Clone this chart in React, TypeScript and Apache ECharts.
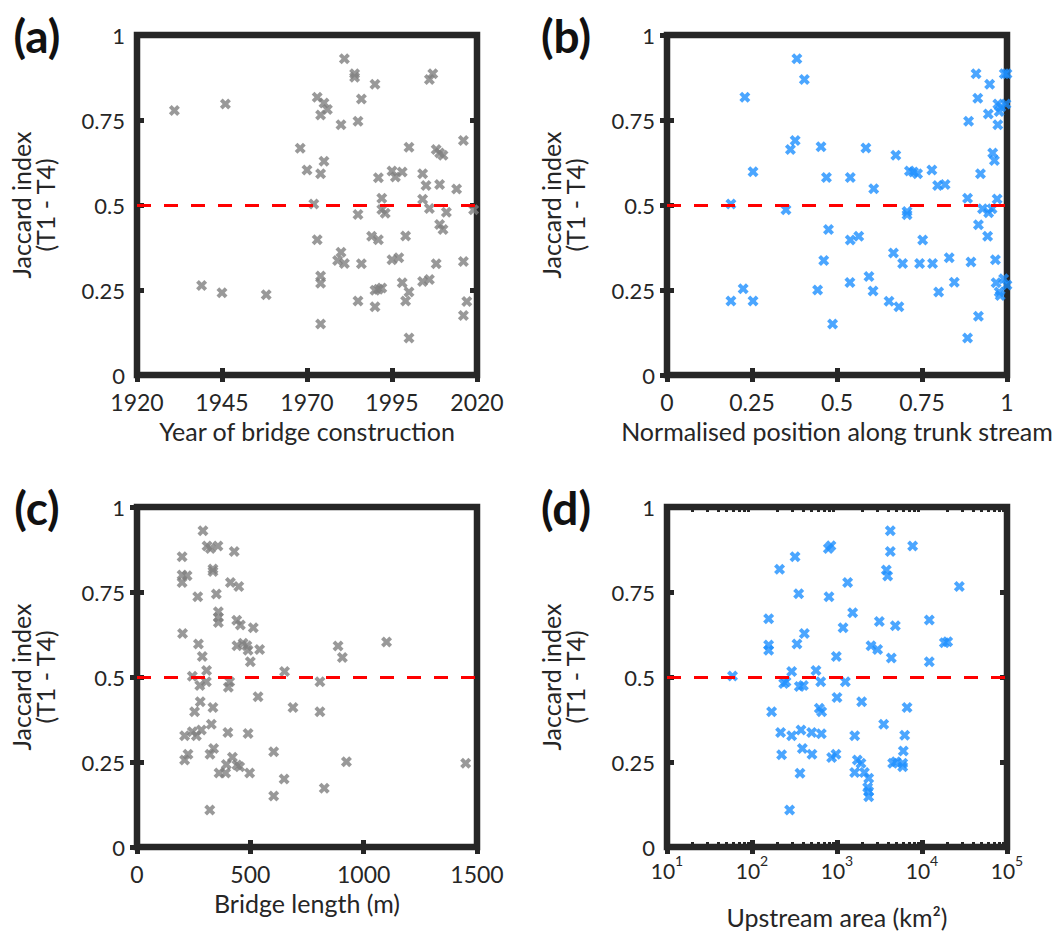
import React, { useEffect, useRef } from 'react';
import * as echarts from 'echarts';

// ---------------- DATA ----------------
// (a) Year of bridge construction vs Jaccard index
const aYear = [
  1931, 1946, 1939, 1945, 1958, 1981, 1984, 1984, 1990, 1986,
  1973, 1975, 1976, 1974, 1980, 1985, 2007, 2006, 2016, 1968,
  2000, 2008, 2009, 2010, 1975, 1970, 1974, 1995, 1996, 1998,
  1991, 2004, 2005, 2009, 2014, 1992, 2004, 1972, 2006, 1992,
  1993, 2011, 2019, 1985, 2009, 2010, 1973, 1989, 1991, 1999,
  1980, 1979, 1981, 1986, 1995, 1997, 2008, 2016, 1974, 1974,
  1998, 2004, 2006, 1990, 1991, 1992, 2000, 1985, 1999, 2017,
  1990, 2016, 1974, 2000,
];
const aJac = [
  0.778, 0.797, 0.263, 0.242, 0.236, 0.930, 0.886, 0.876, 0.855, 0.812,
  0.817, 0.800, 0.781, 0.765, 0.736, 0.746, 0.886, 0.869, 0.690, 0.667,
  0.670, 0.663, 0.653, 0.646, 0.629, 0.603, 0.592, 0.600, 0.582, 0.597,
  0.580, 0.592, 0.557, 0.560, 0.547, 0.520, 0.517, 0.503, 0.490, 0.487,
  0.476, 0.479, 0.486, 0.472, 0.443, 0.428, 0.398, 0.408, 0.398, 0.409,
  0.361, 0.337, 0.328, 0.327, 0.339, 0.345, 0.327, 0.334, 0.291, 0.270,
  0.271, 0.275, 0.281, 0.249, 0.252, 0.256, 0.244, 0.218, 0.218, 0.216,
  0.201, 0.175, 0.150, 0.109,
];

// (b) Normalised position along trunk stream vs Jaccard index
const bPos = [
  0.382, 0.404, 0.229, 0.909, 0.949, 0.914, 0.992, 1.0, 0.973, 0.982,
  0.997, 0.977, 0.945, 0.887, 0.973, 0.377, 0.363, 0.453, 0.585, 0.673,
  0.958, 0.963, 0.253, 0.469, 0.539, 0.713, 0.725, 0.737, 0.779, 0.922,
  0.608, 0.796, 0.818, 0.884, 0.971, 0.188, 0.350, 0.706, 0.706, 0.928,
  0.946, 0.956, 0.475, 0.539, 0.564, 0.752, 0.916, 0.943, 0.666, 0.693,
  0.743, 0.781, 0.830, 0.894, 0.966, 0.461, 0.594, 0.538, 0.845, 0.968,
  0.990, 1.0, 0.224, 0.188, 0.253, 0.443, 0.606, 0.799, 0.653, 0.682,
  0.977, 0.980, 0.487, 0.916, 0.884,
];
const bJac = [
  0.930, 0.869, 0.817, 0.886, 0.855, 0.814, 0.886, 0.886, 0.797, 0.788,
  0.797, 0.775, 0.768, 0.746, 0.736, 0.690, 0.663, 0.671, 0.668, 0.646,
  0.653, 0.631, 0.598, 0.581, 0.581, 0.600, 0.597, 0.592, 0.603, 0.592,
  0.548, 0.557, 0.560, 0.520, 0.518, 0.503, 0.486, 0.481, 0.471, 0.489,
  0.477, 0.489, 0.428, 0.397, 0.408, 0.397, 0.442, 0.408, 0.359, 0.328,
  0.328, 0.328, 0.345, 0.332, 0.339, 0.337, 0.290, 0.272, 0.273, 0.271,
  0.283, 0.265, 0.254, 0.218, 0.218, 0.250, 0.247, 0.244, 0.217, 0.201,
  0.244, 0.234, 0.150, 0.173, 0.109,
];

// (c) Bridge length (m) vs Jaccard index
const cLen = [
  291, 309, 324, 357, 429, 199, 335, 335, 199, 221,
  199, 412, 449, 268, 350, 359, 359, 359, 440, 456,
  513, 201, 271, 441, 468, 485, 490, 541, 500, 887,
  906, 1101, 288, 307, 651, 244, 306, 277, 409, 403,
  807, 534, 279, 335, 254, 688, 807, 328, 210, 244,
  262, 284, 401, 490, 322, 338, 225, 210, 421, 441,
  394, 362, 391, 497, 603, 924, 1450, 649, 603, 826,
  321, 453,
];
const cJac = [
  0.930, 0.885, 0.878, 0.885, 0.869, 0.854, 0.818, 0.810, 0.800, 0.798,
  0.778, 0.778, 0.766, 0.736, 0.744, 0.692, 0.675, 0.660, 0.667, 0.653,
  0.645, 0.628, 0.597, 0.592, 0.599, 0.592, 0.579, 0.581, 0.545, 0.591,
  0.557, 0.603, 0.560, 0.519, 0.516, 0.502, 0.486, 0.475, 0.486, 0.470,
  0.486, 0.442, 0.427, 0.410, 0.398, 0.410, 0.398, 0.361, 0.327, 0.339,
  0.327, 0.344, 0.337, 0.334, 0.273, 0.290, 0.273, 0.256, 0.264, 0.241,
  0.243, 0.218, 0.218, 0.218, 0.280, 0.251, 0.246, 0.200, 0.150, 0.173,
  0.109, 0.236,
];

// (d) Upstream area (km^2) vs Jaccard index
const dArea = [
  4236, 4236, 7762, 791, 849, 321, 211, 3802, 3945, 1334,
  27480, 354, 805, 1528, 157, 3148, 4855, 1178, 12190, 413,
  338, 157, 157, 2512, 3006, 18330, 20050, 982, 4355, 12190,
  59, 293, 566, 236, 251, 360, 402, 643, 1253, 1000,
  1950, 6668, 170, 619, 660, 3540, 217, 293, 377, 503,
  654, 1614, 6256, 223, 391, 508, 865, 973, 6026, 1734,
  1915, 4518, 4943, 5929, 5929, 367, 1614, 2099, 2360, 2296,
  2360, 2360, 277,
];
const dJac = [
  0.930, 0.869, 0.885, 0.878, 0.886, 0.854, 0.817, 0.815, 0.797, 0.778,
  0.766, 0.745, 0.736, 0.689, 0.671, 0.663, 0.651, 0.645, 0.668, 0.628,
  0.597, 0.594, 0.579, 0.592, 0.581, 0.601, 0.604, 0.560, 0.556, 0.545,
  0.503, 0.516, 0.519, 0.481, 0.486, 0.472, 0.475, 0.486, 0.486, 0.440,
  0.427, 0.410, 0.398, 0.408, 0.398, 0.361, 0.337, 0.327, 0.344, 0.337,
  0.333, 0.327, 0.329, 0.271, 0.290, 0.273, 0.263, 0.273, 0.282, 0.256,
  0.246, 0.246, 0.251, 0.246, 0.236, 0.217, 0.219, 0.219, 0.202, 0.175,
  0.163, 0.148, 0.109,
];

const yearTicks = [1920, 1945, 1970, 1995, 2020];
const areaMinorTicks = [1, 2, 3, 4].flatMap((e) =>
  [2, 3, 4, 5, 6, 7, 8, 9].map((m) => m * Math.pow(10, e))
);
const threshold = 0.5;
const panelLabels = ['(a)', '(b)', '(c)', '(d)'];
const xNames = [
  'Year of bridge construction',
  'Normalised position along trunk stream',
  'Bridge length (m)',
  'Upstream area (km²)',
];
const yName = 'Jaccard index\n(T1 - T4)';

// ---------------- STYLE ----------------
const FONT = 'Lato, "Open Sans", "DejaVu Sans", sans-serif';
const INK = '#262626';
const GREY = '#808080';
const BLUE = '#1e90ff';
const X_SYMBOL =
  'path://M0,2.5 L2.5,0 L5,2.5 L7.5,0 L10,2.5 L7.5,5 L10,7.5 L7.5,10 L5,7.5 L2.5,10 L0,7.5 L2.5,5 Z';

const grids = [
  { left: 137, top: 35 },
  { left: 667, top: 35 },
  { left: 137, top: 507 },
  { left: 667, top: 507 },
];

function zip(xs: number[], ys: number[]) {
  return xs.map((x, i) => [x, ys[i]]);
}

const tickStyle = { inside: true, length: 7, lineStyle: { color: INK, width: 5 } };
const labelStyle = {
  fontFamily: FONT,
  fontSize: 22,
  color: INK,
  lineHeight: 18,
  formatter: (v: number) => String(v),
};
const nameStyle = { fontFamily: FONT, fontSize: 25, color: INK };

function buildOption() {
  const grid: any[] = [];
  const xAxis: any[] = [];
  const yAxis: any[] = [];
  const series: any[] = [];

  const xSpecs: any[] = [
    { type: 'value', min: 1920, max: 2020, custom: yearTicks },
    { type: 'value', min: 0, max: 1, interval: 0.25 },
    { type: 'value', min: 0, max: 1500, interval: 500 },
    { type: 'log', min: 10, max: 100000, logBase: 10 },
  ];
  const data = [
    zip(aYear, aJac),
    zip(bPos, bJac),
    zip(cLen, cJac),
    zip(dArea, dJac),
  ];
  const colors = [GREY, BLUE, GREY, BLUE];

  for (let i = 0; i < 4; i++) {
    grid.push({
      left: grids[i].left,
      top: grids[i].top,
      width: 340,
      height: 340,
      show: true,
      borderColor: INK,
      borderWidth: 6.5,
      backgroundColor: 'transparent',
    });
    const s = xSpecs[i];
    const base: any = {
      gridIndex: i,
      type: s.type,
      min: s.min,
      max: s.max,
      splitLine: { show: false },
      axisLine: { show: false },
    };
    if (s.interval) base.interval = s.interval;
    if (s.logBase) base.logBase = s.logBase;
    const tick: any = { ...tickStyle };
    const lab: any = { ...labelStyle, fontSize: 23, lineHeight: 20, margin: 17 };
    if (s.custom) {
      tick.customValues = s.custom;
      lab.customValues = s.custom;
    }
    if (s.type === 'log') {
      lab.formatter = (v: number) => `{b|10}{s|${Math.round(Math.log10(v))}}`;
      lab.rich = {
        b: { fontFamily: FONT, fontSize: 21, color: INK, verticalAlign: 'bottom', lineHeight: 28 },
        s: { fontFamily: FONT, fontSize: 14, color: INK, verticalAlign: 'top', lineHeight: 14 },
      };
      lab.margin = 6;
    }
    xAxis.push({
      ...base,
      position: 'bottom',
      axisTick: tick,
      axisLabel: lab,
      name: xNames[i],
      nameLocation: 'middle',
      nameGap: s.type === 'log' ? 57 : 43,
      nameTextStyle: nameStyle,
    });
    xAxis.push({
      ...base,
      position: 'top',
      axisTick: tick,
      axisLabel: { show: false, customValues: s.custom },
    });
    if (s.type === 'log') {
      const minorTick = { inside: true, length: 5, customValues: areaMinorTicks, lineStyle: { color: INK, width: 3 } };
      xAxis.push({ ...base, position: 'bottom', axisTick: minorTick, axisLabel: { show: false } });
      xAxis.push({ ...base, position: 'top', axisTick: minorTick, axisLabel: { show: false } });
    }
    const ybase: any = {
      gridIndex: i,
      type: 'value',
      min: 0,
      max: 1,
      interval: 0.25,
      splitLine: { show: false },
      axisLine: { show: false },
      axisTick: tickStyle,
    };
    const yLeftIndex = yAxis.length;
    yAxis.push({
      ...ybase,
      position: 'left',
      axisLabel: { ...labelStyle, margin: 12 },
      name: yName,
      nameLocation: 'middle',
      nameRotate: 90,
      nameGap: 80,
      nameTextStyle: { ...nameStyle, lineHeight: 24 },
    });
    yAxis.push({ ...ybase, position: 'right', axisLabel: { show: false } });

    const xIndex = xAxis.findIndex((a) => a.gridIndex === i && a.position === 'bottom');
    series.push({
      type: 'scatter',
      xAxisIndex: xIndex,
      yAxisIndex: yLeftIndex,
      data: data[i],
      symbol: X_SYMBOL,
      symbolSize: 11,
      itemStyle: { color: colors[i] },
      silent: true,
      markLine: {
        silent: true,
        symbol: ['none', 'none'],
        label: { show: false },
        lineStyle: { color: '#ff0000', width: 3, type: [14, 13] },
        data: [{ yAxis: threshold }],
      },
    });
  }

  const titlePos = [
    [37, 35],
    [566, 35],
    [37, 507],
    [566, 507],
  ];
  const graphic = panelLabels.map((t, i) => ({
    type: 'text',
    x: titlePos[i][0],
    y: titlePos[i][1],
    style: {
      text: t,
      fontFamily: FONT,
      fontSize: 46,
      fontWeight: 'bold',
      fill: '#111',
      align: 'center',
      verticalAlign: 'middle',
    },
  }));

  return {
    animation: false,
    backgroundColor: '#ffffff',
    grid,
    xAxis,
    yAxis,
    series,
    graphic,
  };
}

export default function App() {
  const ref = useRef<HTMLDivElement>(null);
  useEffect(() => {
    document.body.style.margin = '0';
    const chart = echarts.init(ref.current!, null, { renderer: 'svg' });
    chart.setOption(buildOption() as any);
    return () => chart.dispose();
  }, []);
  return <div ref={ref} style={{ width: 1064, height: 936 }} />;
}
